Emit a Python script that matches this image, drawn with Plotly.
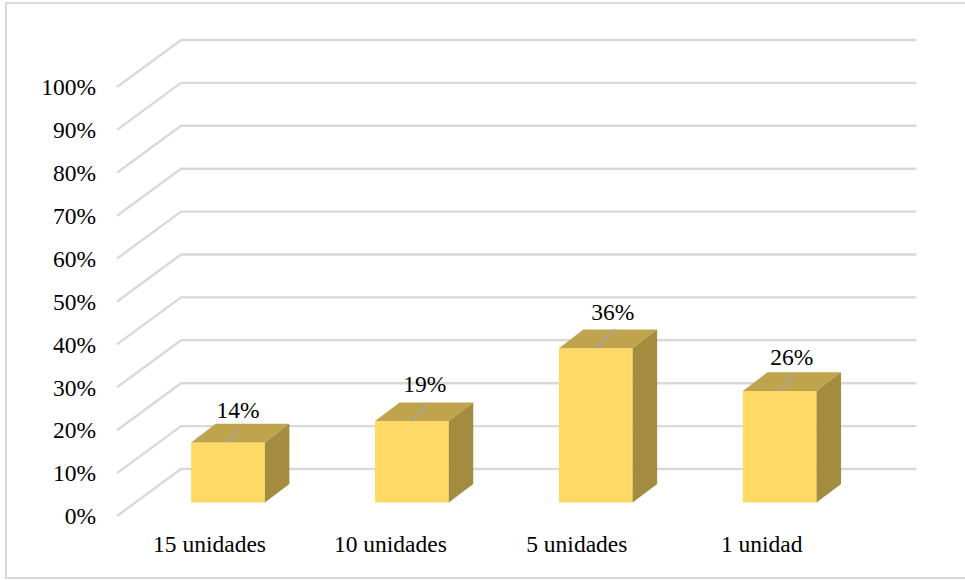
import plotly.graph_objects as go

# Chart data
categories = ["15 unidades", "10 unidades", "5 unidades", "1 unidad"]
values = [14, 19, 36, 26]
y_ticks = [0, 10, 20, 30, 40, 50, 60, 70, 80, 90, 100]
y_tick_labels = [f"{t}%" for t in y_ticks]

# Canvas and plot box, in pixels
WIDTH, HEIGHT = 965, 580
M_L, M_R, M_T, M_B = 97, 30, 25, 53
PLOT_W = WIDTH - M_L - M_R
PLOT_H = HEIGHT - M_T - M_B

# Scales: pixels per category and per percentage point
PX_X = 183.9
PX_Y = 4.29
FIRST_BAR_PX = 228.0
WALL_ZERO_PX = 516.0
BAR_ZERO_PX = 502.6


def x_units(px):
    return (px - FIRST_BAR_PX) / PX_X


x_range = [x_units(M_L), x_units(WIDTH - M_R)]
y_range = [(WALL_ZERO_PX - (HEIGHT - M_B)) / PX_Y, (WALL_ZERO_PX - M_T) / PX_Y]
y2_range = [(BAR_ZERO_PX - (HEIGHT - M_B)) / PX_Y, (BAR_ZERO_PX - M_T) / PX_Y]

# Oblique depth of the walls and of the columns
WALL_DX, WALL_DY = 64 / PX_X, 47 / PX_Y
BAR_DX, BAR_DY = 24.5 / PX_X, 18.7 / PX_Y
BAR_W = 73.7 / PX_X
WALL_LEFT, WALL_RIGHT = x_units(117), x_units(916.5)

# Category label offsets from each column's centre (px)
label_shift = [-18.5, -21.5, -19, -18]

# Leader line ends and value label centres, relative to the column's top-front centre (px)
leader_end = [(11, -14), (14, -15), (19, -19), (14, -16)]
label_centre = [(10, -30), (13, -35), (17, -34), (12, -32)]

FONT = "Liberation Serif"
FONT_SIZE = 23.5
GRID = "#d9d9d9"
FRONT = "#ffd966"
TOP = "#bfa34d"
SIDE = "#a38b3f"
LEADER = "#a6a6a6"

fig = go.Figure()

# Floor-to-wall gridlines
for t in y_ticks:
    fig.add_trace(go.Scatter(
        x=[WALL_LEFT, WALL_LEFT + WALL_DX, WALL_RIGHT],
        y=[t, t + WALL_DY, t + WALL_DY],
        mode="lines", line=dict(color=GRID, width=2.4),
        hoverinfo="skip", showlegend=False, xaxis="x", yaxis="y",
    ))

# Column fronts
xs = list(range(len(categories)))
fig.add_trace(go.Bar(
    x=xs, y=values, width=BAR_W, marker=dict(color=FRONT, line=dict(width=0)),
    showlegend=False, xaxis="x", yaxis="y2",
))

# Column top and side faces
for i, v in zip(xs, values):
    l, r = i - BAR_W / 2, i + BAR_W / 2
    fig.add_trace(go.Scatter(
        x=[l, r, r + BAR_DX, l + BAR_DX, l], y=[v, v, v + BAR_DY, v + BAR_DY, v],
        fill="toself", fillcolor=TOP, mode="lines", line=dict(width=0, color=TOP),
        hoverinfo="skip", showlegend=False, xaxis="x", yaxis="y2",
    ))
    fig.add_trace(go.Scatter(
        x=[r, r + BAR_DX, r + BAR_DX, r, r], y=[0, BAR_DY, v + BAR_DY, v, 0],
        fill="toself", fillcolor=SIDE, mode="lines", line=dict(width=0, color=SIDE),
        hoverinfo="skip", showlegend=False, xaxis="x", yaxis="y2",
    ))
    # Leader line from the column top towards its label
    ex, ey = leader_end[i]
    fig.add_trace(go.Scatter(
        x=[i, i + ex / PX_X], y=[v, v - ey / PX_Y],
        mode="lines", line=dict(color=LEADER, width=1.6),
        hoverinfo="skip", showlegend=False, xaxis="x", yaxis="y2",
    ))

# Value labels
fig.add_trace(go.Scatter(
    x=[i + label_centre[i][0] / PX_X for i in xs],
    y=[v - label_centre[i][1] / PX_Y for i, v in zip(xs, values)],
    mode="text", text=[f"{v}%" for v in values], textposition="middle center",
    textfont=dict(family=FONT, size=FONT_SIZE, color="#000000"),
    hoverinfo="skip", showlegend=False, xaxis="x", yaxis="y2",
))

fig.update_layout(
    width=WIDTH, height=HEIGHT,
    margin=dict(l=M_L, r=M_R, t=M_T, b=M_B, pad=0),
    paper_bgcolor="#ffffff", plot_bgcolor="rgba(0,0,0,0)",
    font=dict(family=FONT, size=FONT_SIZE, color="#000000"),
    xaxis=dict(
        range=x_range, tickmode="array",
        tickvals=[i + label_shift[i] / PX_X for i in xs], ticktext=categories,
        showgrid=False, zeroline=False, showline=False, ticks="",
    ),
    yaxis=dict(
        range=y_range, tickmode="array", tickvals=y_ticks, ticktext=y_tick_labels,
        showgrid=False, zeroline=False, showline=False, ticks="",
    ),
    yaxis2=dict(
        range=y2_range, overlaying="y", side="left", visible=False,
    ),
    # Frame open on the right: its right side runs past the page edge
    shapes=[dict(
        type="rect", xref="paper", yref="paper", layer="below",
        x0=(6 - M_L) / PLOT_W, x1=(970 - M_L) / PLOT_W,
        y0=(HEIGHT - M_B - 578) / PLOT_H, y1=(HEIGHT - M_B - 3) / PLOT_H,
        line=dict(color=GRID, width=2), fillcolor="rgba(0,0,0,0)",
    )],
)

fig.write_html("out.html", config=dict(displayModeBar=False))
